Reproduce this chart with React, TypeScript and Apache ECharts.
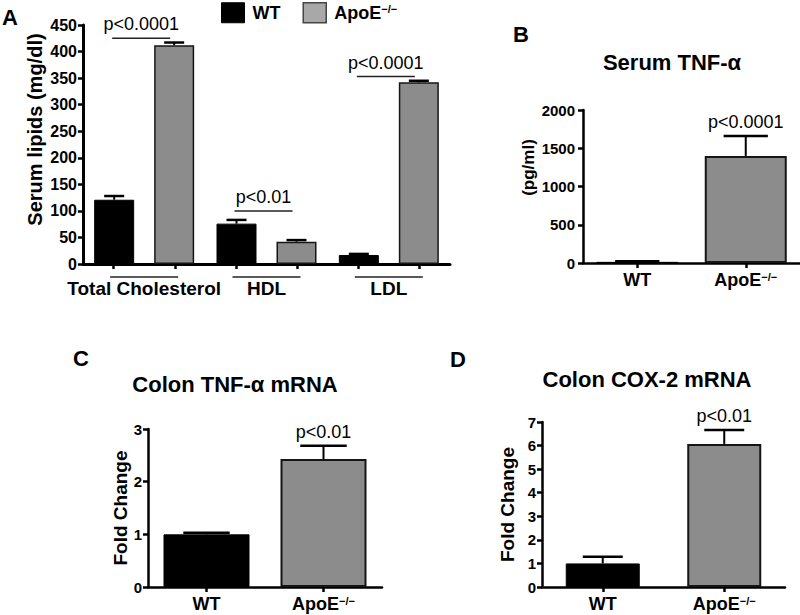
import React, { useEffect, useRef } from "react";
import * as echarts from "echarts";

const FONT = "'Liberation Sans', Arial, Helvetica, sans-serif";
const APO = "ApoE−/−";
const WT = "WT";

// Panel A – serum lipids (mg/dl)
const aCategories = ["Total Cholesterol", "HDL", "LDL"];
const aWT = [121, 76, 17];
const aWTErr = [7, 7, 2];
const aApo = [412, 42, 342];
const aApoErr = [5, 3, 3];
const aSigLevel = [425, 100, 353];
const aSigText = ["p<0.0001", "p<0.01", "p<0.0001"];
const aYMax = 450;
const aYInterval = 50;

// Panel B – serum TNF-α (pg/ml)
const groups = [WT, APO];
const bValues = [15, 1400];
const bErr = [8, 260];
const bSigText = ["", "p<0.0001"];
const bYMax = 2000;
const bYInterval = 500;

// Panel C – colon TNF-α mRNA fold change
const cValues = [1.0, 2.43];
const cErr = [0.03, 0.25];
const cSigText = ["", "p<0.01"];
const cYMax = 3;
const cYInterval = 1;

// Panel D – colon COX-2 mRNA fold change
const dValues = [1.0, 6.07];
const dErr = [0.28, 0.59];
const dSigText = ["", "p<0.01"];
const dYMax = 7;
const dYInterval = 1;

const BLACK = "#000000";
const GRAY = "#8c8c8c";
const LEGEND_GRAY = "#a8a8a8";
const BORDER = "#151515";

const supRich = {
  s: { fontSize: 11, fontWeight: "bold", fontFamily: FONT, color: "#000", verticalAlign: "top", lineHeight: 12, padding: [0, 0, 7, 0] },
};

const catFormatter = (v: string) => (v === APO ? "ApoE{s|−/−}" : v);

function errRender(offset: number, capHalf: number, texts?: string[]) {
  return (params: any, api: any) => {
    const x = api.value(0);
    const v = api.value(1);
    const e = api.value(2);
    const base = api.coord([x, v]);
    const hi = api.coord([x, v + e]);
    const cx = base[0] + offset;
    const children: any[] = [
      { type: "line", shape: { x1: cx, y1: base[1], x2: cx, y2: hi[1] }, style: { stroke: BLACK, lineWidth: 2 } },
      { type: "line", shape: { x1: cx - capHalf, y1: hi[1], x2: cx + capHalf, y2: hi[1] }, style: { stroke: BLACK, lineWidth: 2.5 } },
    ];
    const t = texts ? texts[params.dataIndex] : "";
    if (t) {
      children.push({
        type: "text",
        style: { text: t, x: cx, y: hi[1] - 5, align: "center", verticalAlign: "bottom", fontSize: 18, fontFamily: FONT, fill: BLACK },
      });
    }
    return { type: "group", children };
  };
}

function sigRender(params: any, api: any) {
  const x = api.value(0);
  const lvl = api.value(1);
  const p = api.coord([x, lvl]);
  const x1 = p[0] - 30 - 2;
  const x2 = p[0] + 30 - 4;
  return {
    type: "group",
    children: [
      { type: "line", shape: { x1, y1: p[1], x2, y2: p[1] }, style: { stroke: "#222", lineWidth: 1.5 } },
      {
        type: "text",
        style: { text: aSigText[params.dataIndex], x: (x1 + x2) / 2, y: p[1] - 5, align: "center", verticalAlign: "bottom", fontSize: 18, fontFamily: FONT, fill: BLACK },
      },
    ],
  };
}

function underlineRender(params: any, api: any) {
  const x = api.value(0);
  const p = api.coord([x, 0]);
  return {
    type: "line",
    shape: { x1: p[0] - 30 - 4, y1: p[1] + 13, x2: p[0] + 30 + 4, y2: p[1] + 13 },
    style: { stroke: "#222", lineWidth: 1.5 },
  };
}

function yAxis(grid: number, max: number, interval: number, name: string, nameGap: number, nameSize: number, shift: number, labelSize: number, labelMargin: number, lineW: number) {
  return {
    gridIndex: grid,
    type: "value",
    min: 0,
    max,
    interval,
    splitLine: { show: false },
    axisLine: { show: true, lineStyle: { color: BLACK, width: lineW } },
    axisTick: { show: true, length: 5, lineStyle: { color: BLACK, width: 2.5 } },
    axisLabel: { fontFamily: FONT, fontWeight: "bold", fontSize: labelSize, color: BLACK, margin: labelMargin, formatter: (v: number) => String(v) },
    name,
    nameLocation: "middle",
    nameRotate: 90,
    nameGap,
    nameTextStyle: { fontFamily: FONT, fontWeight: "bold", fontSize: nameSize, color: BLACK, padding: [0, 0, 0, shift] },
  };
}

function xAxisGroups(grid: number) {
  return {
    gridIndex: grid,
    type: "category",
    data: groups,
    axisLine: { lineStyle: { color: BLACK, width: 2.5 } },
    axisTick: { show: true, alignWithLabel: true, length: 5, lineStyle: { color: BLACK, width: 2.5 } },
    axisLabel: { interval: 0, hideOverlap: false, fontFamily: FONT, fontWeight: "bold", fontSize: 18, color: BLACK, margin: 8, formatter: catFormatter, rich: supRich },
  };
}

function groupBars(values: number[], xi: number, yi: number, width: number) {
  return {
    type: "bar",
    xAxisIndex: xi,
    yAxisIndex: yi,
    barWidth: width,
    data: values.map((v, i) => ({
      value: v,
      itemStyle: i === 0 ? { color: BLACK, borderColor: BLACK, borderWidth: 1 } : { color: GRAY, borderColor: BORDER, borderWidth: 2 },
    })),
  };
}

function groupErr(values: number[], errs: number[], texts: string[], xi: number, yi: number, width: number) {
  return {
    type: "custom",
    xAxisIndex: xi,
    yAxisIndex: yi,
    z: 5,
    renderItem: errRender(0, width * 0.27, texts),
    data: values.map((v, i) => [i, v, errs[i]]),
  };
}

export default function App() {
  const ref = useRef<HTMLDivElement>(null);
  useEffect(() => {
    if (!ref.current) return;
    const chart = echarts.init(ref.current, undefined, { renderer: "svg" });
    const option: any = {
      animation: false,
      backgroundColor: "#ffffff",
      textStyle: { fontFamily: FONT },
      legend: {
        data: [
          { name: WT, itemStyle: { color: BLACK, borderColor: BLACK, borderWidth: 1 } },
          { name: APO, itemStyle: { color: LEGEND_GRAY, borderColor: "#444", borderWidth: 1.5 } },
        ],
        left: 216,
        top: -3,
        icon: "rect",
        itemWidth: 23,
        itemHeight: 20,
        itemGap: 22,
        selectedMode: false,
        formatter: (n: string) => (n === APO ? "ApoE{s|−/−}" : n),
        textStyle: { fontFamily: FONT, fontSize: 18, fontWeight: "bold", color: BLACK, padding: [0, 0, 0, 3], rich: supRich },
      },
      grid: [
        { left: 83, top: 25, right: 350, bottom: 351 },
        { left: 583, top: 110, right: -9, bottom: 352 },
        { left: 148, top: 429, right: 418, bottom: 28 },
        { left: 542, top: 422, right: 15, bottom: 28 },
      ],
      xAxis: [
        {
          gridIndex: 0,
          type: "category",
          data: aCategories,
          axisLine: { lineStyle: { color: BLACK, width: 3 } },
          axisTick: { show: false },
          axisLabel: { interval: 0, hideOverlap: false, fontFamily: FONT, fontWeight: "bold", fontSize: 19, color: BLACK, margin: 15 },
        },
        {
          gridIndex: 0,
          type: "category",
          position: "bottom",
          data: aCategories.flatMap((c) => [c + " " + WT, c + " " + APO]),
          axisLine: { show: false },
          axisTick: { show: true, alignWithLabel: true, interval: 0, length: 5, lineStyle: { color: BLACK, width: 2.5 } },
          axisLabel: { show: false },
        },
        xAxisGroups(1),
        xAxisGroups(2),
        xAxisGroups(3),
      ],
      yAxis: [
        yAxis(0, aYMax, aYInterval, "Serum lipids (mg/dl)", 38, 20, 30, 16, 6, 3),
        yAxis(1, bYMax, bYInterval, "(pg/ml)", 46, 17, 38, 15, 8, 2.5),
        yAxis(2, cYMax, cYInterval, "Fold Change", 11, 19, 0, 15, 6, 2.5),
        yAxis(3, dYMax, dYInterval, "Fold Change", 25, 19, 0, 15, 6, 2.5),
      ],
      series: [
        { type: "bar", name: WT, xAxisIndex: 0, yAxisIndex: 0, barWidth: 40, barGap: "50%", data: aWT, itemStyle: { color: BLACK, borderColor: BLACK, borderWidth: 1 } },
        { type: "bar", name: APO, xAxisIndex: 0, yAxisIndex: 0, barWidth: 40, barGap: "50%", data: aApo, itemStyle: { color: GRAY, borderColor: BORDER, borderWidth: 1.5 } },
        { type: "custom", xAxisIndex: 0, yAxisIndex: 0, z: 5, renderItem: errRender(-30, 10), data: aWT.map((v, i) => [i, v, aWTErr[i]]) },
        { type: "custom", xAxisIndex: 0, yAxisIndex: 0, z: 5, renderItem: errRender(30, 10), data: aApo.map((v, i) => [i, v, aApoErr[i]]) },
        { type: "custom", xAxisIndex: 0, yAxisIndex: 0, z: 5, renderItem: sigRender, data: aSigLevel.map((v, i) => [i, v]) },
        { type: "custom", xAxisIndex: 0, yAxisIndex: 0, z: 5, renderItem: underlineRender, data: aCategories.map((_, i) => [i, 0]) },
        groupBars(bValues, 2, 1, 82),
        groupErr(bValues, bErr, bSigText, 2, 1, 82),
        groupBars(cValues, 3, 2, 86),
        groupErr(cValues, cErr, cSigText, 3, 2, 86),
        groupBars(dValues, 4, 3, 74),
        groupErr(dValues, dErr, dSigText, 4, 3, 74),
      ],
      graphic: [
        { type: "text", left: 2, top: 6, style: { text: "A", fontSize: 22, fontWeight: "bold", fontFamily: FONT, fill: BLACK } },
        { type: "text", left: 513, top: 23, style: { text: "B", fontSize: 22, fontWeight: "bold", fontFamily: FONT, fill: BLACK } },
        { type: "text", left: 73, top: 347, style: { text: "C", fontSize: 22, fontWeight: "bold", fontFamily: FONT, fill: BLACK } },
        { type: "text", left: 450, top: 348, style: { text: "D", fontSize: 22, fontWeight: "bold", fontFamily: FONT, fill: BLACK } },
        { type: "text", x: 672, y: 51, style: { text: "Serum TNF-α", align: "center", verticalAlign: "top", fontSize: 22, fontWeight: "bold", fontFamily: FONT, fill: BLACK } },
        { type: "text", x: 235, y: 373, style: { text: "Colon TNF-α mRNA", align: "center", verticalAlign: "top", fontSize: 22, fontWeight: "bold", fontFamily: FONT, fill: BLACK } },
        { type: "text", x: 647, y: 368, style: { text: "Colon COX-2 mRNA", align: "center", verticalAlign: "top", fontSize: 22, fontWeight: "bold", fontFamily: FONT, fill: BLACK } },
      ],
    };
    chart.setOption(option);
    return () => chart.dispose();
  }, []);
  return <div ref={ref} style={{ width: 800, height: 615, position: "absolute", left: 0, top: 0 }} />;
}
